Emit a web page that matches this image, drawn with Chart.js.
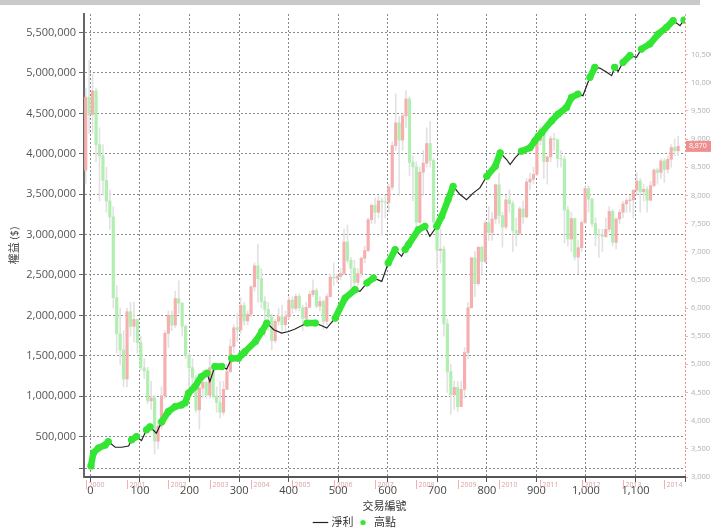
<!DOCTYPE html>
<html>
<head>
<meta charset="utf-8">
<script src="https://cdn.jsdelivr.net/npm/chart.js@4.4.1/dist/chart.umd.min.js"></script>
<style>
	html, body { margin: 0; padding: 0; background: #fff; }
	#wrap { width: 711px; height: 532px; }
</style>
</head>
<body>
<div id="wrap"><canvas id="myChart" width="711" height="532"></canvas></div>
<script>
// net profit curve (trade number / equity)
var trades = [1, 6, 16, 30, 36, 50, 63, 77, 83, 93, 103, 113, 120, 133, 144, 157, 171, 184, 191, 198,
	211, 224, 235, 241, 251, 265, 275, 285, 299, 305, 312, 333, 346, 356, 370, 386, 400, 413, 437, 454,
	467, 477, 494, 514, 534, 544, 558, 571, 588, 601, 615, 628, 635, 642, 662, 675, 685, 699, 709, 722,
	732, 746, 759, 773, 786, 800, 817, 827, 840, 847, 857, 870, 887, 897, 904, 911, 931, 944, 961, 971,
	984, 994, 1008, 1018, 1028, 1042, 1052, 1058, 1065, 1075, 1089, 1102, 1112, 1129, 1146, 1163, 1176, 1190, 1198];
var equity = [136000, 297000, 359000, 397000, 438000, 368000, 368000, 384000, 459000, 500000,
	450000, 583000, 620000, 542000, 685000, 809000, 871000, 892000, 917000, 1037000,
	1119000, 1243000, 1285000, 1181000, 1367000, 1367000, 1335000, 1471000, 1471000, 1512000,
	1553000, 1677000, 1801000, 1905000, 1822000, 1781000, 1801000, 1831000, 1905000, 1905000,
	1872000, 1843000, 1967000, 2215000, 2318000, 2297000, 2401000, 2463000, 2421000, 2649000,
	2814000, 2731000, 2814000, 2876000, 3062000, 3103000, 2979000, 3103000, 3226000, 3433000,
	3598000, 3495000, 3433000, 3516000, 3578000, 3722000, 3846000, 4012000, 3929000, 3867000,
	3950000, 4032000, 4074000, 4161000, 4218000, 4264000, 4409000, 4491000, 4574000, 4698000,
	4739000, 4719000, 4946000, 5070000, 5061000, 5008000, 4967000, 5070000, 5020000, 5132000,
	5215000, 5194000, 5296000, 5358000, 5482000, 5565000, 5648000, 5586000, 5656000];

// background index candles, one per month from Jan 2000
var candleOpen = [
	8448, 9744, 9435, 9854, 8900, 8700, 8265, 7900, 7616, 6185, 5544, 5256,
	4739, 5936, 5674, 5797, 5385, 4938, 4883, 4352, 4406, 3636, 3903, 4441,
	5551, 5872, 5696, 6167, 6085, 5675, 5153, 4941, 4764, 4191, 4579, 4680,
	4452, 4941, 4432, 4321, 4149, 4556, 4872, 5318, 5650, 5611, 6045, 5771,
	5890, 6375, 6750, 6522, 6117, 5977, 5840, 5420, 5765, 5845, 5705, 5844,
	6140, 5994, 6207, 6006, 5818, 6012, 6242, 6311, 6033, 6118, 5764, 6203,
	6548, 6532, 6561, 6613, 7171, 6846, 6704, 6455, 6611, 6883, 7021, 7567,
	7823, 7699, 7901, 7884, 7875, 8145, 8884, 9287, 8982, 9411, 9711, 8586,
	8506, 7521, 8412, 8572, 8920, 8619, 7524, 7024, 7046, 5719, 4870, 4460,
	4591, 4248, 4557, 5210, 6004, 6890, 6432, 7077, 6826, 7509, 7340, 7582,
	8188, 7640, 7436, 7920, 7854, 7374, 7329, 7760, 7616, 8238, 8287, 8372,
	8973, 9145, 8600, 8683, 9008, 8988, 8653, 8644, 7741, 7225, 7588, 6904,
	7072, 7518, 8121, 7933, 7501, 7301, 7296, 7270, 7397, 7715, 7166, 7580,
	7700, 7850, 7907, 7919, 8093, 8254, 8062, 8108, 7915, 8174, 8450, 8407,
	8612, 8462, 8640, 8849, 8792];
var candleHigh = [
	9900, 10393, 10150, 9900, 9200, 8900, 8500, 8100, 7800, 6400, 6000, 5600,
	6000, 6100, 6100, 5800, 5500, 5100, 4950, 4700, 4450, 4000, 4600, 5600,
	5950, 5950, 6300, 6484, 6100, 5700, 5200, 5100, 4800, 4650, 4900, 4700,
	5150, 5000, 4600, 4700, 4700, 5000, 5450, 5700, 5900, 6182, 6100, 5950,
	6400, 6800, 7135, 6700, 6200, 6100, 5900, 5800, 6000, 6050, 5950, 6200,
	6200, 6250, 6250, 6050, 6100, 6300, 6500, 6350, 6200, 6150, 6250, 6600,
	6800, 6600, 6700, 7400, 7474, 6900, 6850, 6700, 6900, 7100, 7600, 7850,
	7950, 7990, 7950, 8000, 8200, 8950, 9800, 9400, 9450, 9859, 9750, 8700,
	8600, 8500, 8800, 9200, 9309, 8650, 7600, 7400, 7100, 5800, 5000, 4700,
	4700, 4700, 5300, 6100, 6900, 7000, 7100, 7100, 7550, 7800, 7700, 8200,
	8395, 7700, 8000, 8100, 7900, 7600, 7800, 7900, 8300, 8400, 8500, 8990,
	9220, 9150, 8700, 9050, 9100, 9000, 8800, 8700, 7800, 7700, 7600, 7200,
	7550, 8150, 8170, 7950, 7600, 7400, 7400, 7600, 7800, 7750, 7600, 7750,
	7900, 7950, 8000, 8100, 8400, 8300, 8200, 8150, 8250, 8470, 8480, 8650,
	8650, 8700, 8900, 9000, 9050];
var candleLow = [
	8200, 9100, 9100, 8600, 7900, 8000, 7700, 7400, 6000, 5200, 5000, 4600,
	4600, 5500, 5400, 5200, 4900, 4750, 4300, 4200, 3411, 3500, 3850, 4400,
	5300, 5600, 5650, 5900, 5500, 5100, 4600, 4500, 4150, 3850, 4400, 4400,
	4400, 4400, 4150, 4044, 4100, 4550, 4850, 5200, 5400, 5550, 5700, 5700,
	5850, 6300, 6100, 6000, 5500, 5600, 5255, 5380, 5700, 5600, 5600, 5800,
	5900, 5950, 5950, 5600, 5800, 6000, 6200, 6000, 5950, 5620, 5700, 6200,
	6400, 6450, 6500, 6600, 6800, 6230, 6300, 6400, 6550, 6800, 7000, 7500,
	7500, 7600, 7300, 7600, 7700, 8100, 8800, 8000, 8800, 9200, 8350, 7900,
	7384, 7400, 8000, 8500, 8500, 7500, 6700, 6800, 5500, 4500, 4110, 4200,
	4164, 4250, 4400, 5100, 6000, 6200, 6400, 6600, 6800, 7200, 7200, 7500,
	7500, 7080, 7400, 7700, 7000, 7100, 7300, 7500, 7600, 8100, 8200, 8350,
	8900, 8300, 8200, 8600, 8800, 8500, 8500, 7150, 7100, 7000, 6850, 6609,
	7000, 7500, 7700, 7450, 7100, 6900, 7000, 7250, 7350, 7100, 7050, 7500,
	7600, 7700, 7700, 7600, 8000, 7700, 7900, 7700, 7900, 8150, 8200, 8300,
	8230, 8400, 8500, 8700, 8700];
var candleClose = [
	9744, 9435, 9854, 8900, 8700, 8265, 7900, 7616, 6185, 5544, 5256, 4739,
	5936, 5674, 5797, 5385, 4938, 4883, 4352, 4406, 3636, 3903, 4441, 5551,
	5872, 5696, 6167, 6085, 5675, 5153, 4941, 4764, 4191, 4579, 4680, 4452,
	4941, 4432, 4321, 4149, 4556, 4872, 5318, 5650, 5611, 6045, 5771, 5890,
	6375, 6750, 6522, 6117, 5977, 5840, 5420, 5765, 5845, 5705, 5844, 6140,
	5994, 6207, 6006, 5818, 6012, 6242, 6311, 6033, 6118, 5764, 6203, 6548,
	6532, 6561, 6613, 7171, 6846, 6704, 6455, 6611, 6883, 7021, 7567, 7823,
	7699, 7901, 7884, 7875, 8145, 8884, 9287, 8982, 9411, 9711, 8586, 8506,
	7521, 8412, 8572, 8920, 8619, 7524, 7024, 7046, 5719, 4870, 4460, 4591,
	4248, 4557, 5210, 6004, 6890, 6432, 7077, 6826, 7509, 7340, 7582, 8188,
	7640, 7436, 7920, 7854, 7374, 7329, 7760, 7616, 8238, 8287, 8372, 8973,
	9145, 8600, 8683, 9008, 8988, 8653, 8644, 7741, 7225, 7588, 6904, 7072,
	7518, 8121, 7933, 7501, 7301, 7296, 7270, 7397, 7715, 7166, 7580, 7700,
	7850, 7907, 7919, 8093, 8254, 8062, 8108, 7915, 8174, 8450, 8407, 8612,
	8462, 8640, 8849, 8792, 8870];

var years = ["2000", "2001", "2002", "2003", "2004", "2005", "2006", "2007",
	"2008", "2009", "2010", "2011", "2012", "2013", "2014"];
var tradeTicks = [0, 100, 200, 300, 400, 500, 600, 700, 800, 900, 1000, 1100, 1200];
var equityTicks = [100000, 500000, 1000000, 1500000, 2000000, 2500000, 3000000,
	3500000, 4000000, 4500000, 5000000, 5500000];
var priceTicks = [3000, 3500, 4000, 4500, 5000, 5500, 6000, 6500, 7000, 7500,
	8000, 8500, 9000, 9500, 10000, 10500];

var
	black = "#222222",
	brightGreen = "#33e633",
	upRed = "#f5afaf",
	downGreen = "#b0efb0",
	wickGrey = "#e2e2e2",
	gridGrey = "#8a8a8a",
	pink = "#ef8f8f",
	cjk = "'Open Sans', 'Noto Sans CJK TC', sans-serif";

var linePoints = trades.map(function(t, i) { return {x: t, y: equity[i]}; });

// new equity highs: green dots, runs of them joined into a thick band
var highPoints = [], best = -Infinity;
linePoints.forEach(function(p) {
	if (p.y >= best) {
		best = p.y;
		highPoints.push(p);
	} else {
		highPoints.push({x: p.x, y: null});
	}
});

var bodies = candleOpen.map(function(o, i) { return {x: i, y: [o, candleClose[i]]}; });
var bodyColors = candleOpen.map(function(o, i) { return candleClose[i] >= o ? upRed : downGreen; });
var wicks = candleLow.map(function(l, i) { return {x: i, y: [l, candleHigh[i]]}; });

// small green dot for the legend
var dotImg = document.createElement("canvas");
dotImg.width = 7;
dotImg.height = 7;
var dctx = dotImg.getContext("2d");
dctx.fillStyle = brightGreen;
dctx.beginPath();
dctx.arc(3.5, 3.5, 2.6, 0, Math.PI * 2);
dctx.fill();

var extras = {
	id: "extras",
	beforeDraw: function(chart) {
		var c = chart.ctx;
		c.save();
		c.fillStyle = "#c9c9c9";
		c.fillRect(0, 0, 700, 5);
		c.restore();
	},
	afterDraw: function(chart) {
		var c = chart.ctx,
			x2 = chart.scales.x2,
			y2 = chart.scales.y2,
			bottom = chart.chartArea.bottom,
			last = candleClose[candleClose.length - 1],
			py = y2.getPixelForValue(last);
		c.save();
		// year markers along the month axis
		c.font = "7px 'Open Sans'";
		c.textBaseline = "middle";
		years.forEach(function(y, i) {
			var px = Math.round(x2.getPixelForValue(i * 12)) + 0.5;
			c.strokeStyle = "#f2b0b0";
			c.lineWidth = 1;
			c.beginPath();
			c.moveTo(px, bottom + 3);
			c.lineTo(px, bottom + 12);
			c.stroke();
			c.fillStyle = "#d9a3a3";
			c.fillText(y, px + 2, bottom + 8);
		});
		// last price tag on the right axis
		c.fillStyle = pink;
		c.fillRect(y2.left + 1, py - 5.5, 25, 11);
		c.fillStyle = "#ffffff";
		c.fillText(last.toLocaleString("en-US"), y2.left + 4, py);
		c.restore();
	}
};

Chart.defaults.font.family = cjk;

var ctx = document.getElementById("myChart").getContext("2d");
var myChart = new Chart(ctx, {
	type: "line",
	data: {
		datasets: [{
			label: "淨利",
			data: linePoints,
			xAxisID: "x",
			yAxisID: "y",
			borderColor: black,
			backgroundColor: black,
			borderWidth: 1.2,
			pointRadius: 0,
			pointStyle: "line",
			order: 1
		}, {
			label: "高點",
			data: highPoints,
			xAxisID: "x",
			yAxisID: "y",
			showLine: true,
			spanGaps: false,
			borderColor: brightGreen,
			backgroundColor: brightGreen,
			borderWidth: 6.5,
			borderCapStyle: "round",
			borderJoinStyle: "round",
			pointRadius: 3.6,
			pointBorderWidth: 0,
			order: 0
		}, {
			type: "bar",
			label: "k",
			data: bodies,
			xAxisID: "x2",
			yAxisID: "y2",
			backgroundColor: bodyColors,
			barThickness: 2.5,
			grouped: false,
			order: 2
		}, {
			type: "bar",
			label: "w",
			data: wicks,
			xAxisID: "x2",
			yAxisID: "y2",
			backgroundColor: wickGrey,
			barThickness: 1,
			grouped: false,
			order: 3
		}]
	},
	options: {
		responsive: false,
		animation: false,
		events: [],
		layout: { padding: { top: 14, left: 0, right: 0, bottom: 0 } },
		plugins: {
			tooltip: { enabled: false },
			legend: {
				display: true,
				position: "bottom",
				maxHeight: 19,
				labels: {
					color: "#333",
					font: { size: 11 },
					usePointStyle: true,
					boxHeight: 11,
					padding: 4,
					filter: function(item) { return item.datasetIndex < 2; },
					sort: function(a, b) { return a.datasetIndex - b.datasetIndex; },
					generateLabels: function(chart) {
						var items = Chart.defaults.plugins.legend.labels.generateLabels(chart);
						items.forEach(function(it) {
							if (it.datasetIndex === 1) it.pointStyle = dotImg;
						});
						return items;
					}
				}
			}
		},
		scales: {
			x: {
				type: "linear",
				position: "bottom",
				min: -13,
				max: 1200,
				afterBuildTicks: function(s) { s.ticks = tradeTicks.map(function(v) { return {value: v}; }); },
				afterFit: function(s) { s.height = 36; },
				ticks: {
					color: "#444",
					font: { size: 11 },
					padding: 2,
					maxRotation: 0,
					autoSkip: false,
					callback: function(v) { return v === 1200 ? "" : v.toLocaleString("en-US"); }
				},
				grid: {
					color: function(c) { return c.tick && c.tick.value === 1200 ? pink : gridGrey; },
					tickColor: "#555",
					tickLength: 5
				},
				border: { display: true, color: "#555", width: 2, dash: [2, 2] },
				title: {
					display: true,
					text: "交易編號",
					color: "#333",
					font: { size: 11 },
					padding: { top: 0, bottom: 0 }
				}
			},
			x2: {
				type: "linear",
				display: false,
				min: -0.5,
				max: 174,
				offset: false
			},
			y: {
				type: "linear",
				position: "left",
				min: 0,
				max: 5730000,
				afterBuildTicks: function(s) { s.ticks = equityTicks.map(function(v) { return {value: v}; }); },
				afterFit: function(s) { s.width = 84; },
				ticks: {
					color: "#555",
					font: { size: 11 },
					padding: 3,
					callback: function(v) { return v === 100000 ? "" : v.toLocaleString("en-US"); }
				},
				grid: { color: gridGrey, tickColor: "#666", tickLength: 5 },
				border: { display: true, color: "#666", width: 2, dash: [2, 2] },
				title: {
					display: true,
					text: "權益 ($)",
					color: "#444",
					font: { size: 11 },
					padding: { top: 8, bottom: 0 }
				}
			},
			y2: {
				type: "linear",
				position: "right",
				min: 3000,
				max: 11220,
				afterBuildTicks: function(s) { s.ticks = priceTicks.map(function(v) { return {value: v}; }); },
				afterFit: function(s) { s.width = 26; },
				ticks: {
					color: "#b0b0b0",
					font: { size: 7.5 },
					padding: 3,
					callback: function(v) { return v.toLocaleString("en-US"); }
				},
				grid: { drawOnChartArea: false, color: "#f2b0b0", tickLength: 3 },
				border: { display: false }
			}
		}
	},
	plugins: [extras]
});
</script>
</body>
</html>
